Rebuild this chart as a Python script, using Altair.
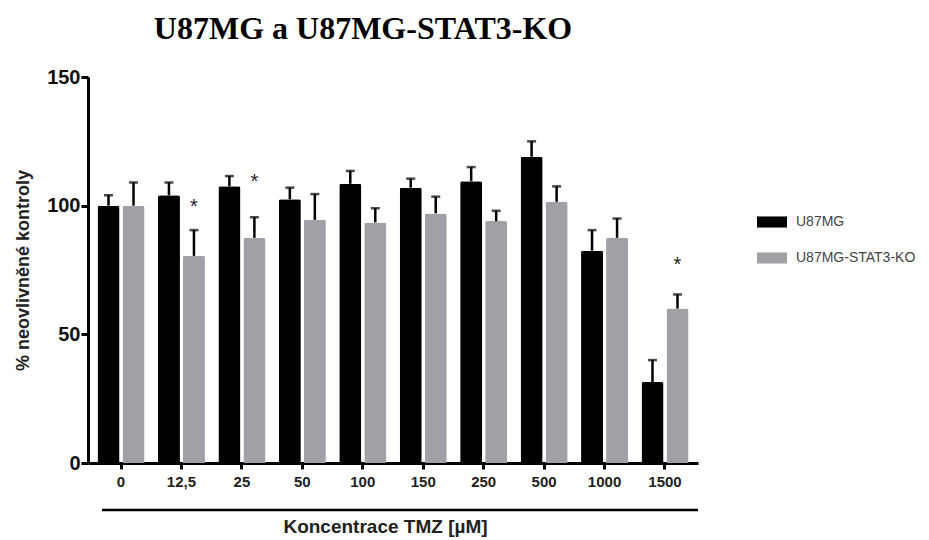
import altair as alt
import pandas as pd

conc = ["0", "12,5", "25", "50", "100", "150", "250", "500", "1000", "1500"]
series = ["U87MG", "U87MG-STAT3-KO"]
u87 = [100, 104, 107.5, 102.5, 108.5, 107, 109.5, 119, 82.5, 31.5]
u87_err = [4, 5, 4, 4.5, 5, 3.5, 5.5, 6, 8, 8.5]
ko = [100, 80.5, 87.5, 94.5, 93.5, 97, 94, 101.5, 87.5, 60]
ko_err = [9, 10, 8, 10, 5.5, 6.5, 4, 6, 7.5, 5.5]
star_conc = ["12,5", "25", "1500"]
star_y = [100, 109.5, 77.5]

rows = []
for i, c in enumerate(conc):
    rows.append({"conc": c, "series": series[0], "value": u87[i], "upper": u87[i] + u87_err[i]})
    rows.append({"conc": c, "series": series[1], "value": ko[i], "upper": ko[i] + ko_err[i]})
df = pd.DataFrame(rows)
stars = pd.DataFrame({"conc": star_conc, "series": [series[1]] * len(star_conc), "y": star_y})

W, H = 610, 386

x_enc = alt.X("conc:N", sort=conc, scale=alt.Scale(paddingInner=0.222, paddingOuter=0.157),
              axis=alt.Axis(title="Koncentrace TMZ [µM]", labelAngle=0, labelFont="Arial",
                            labelFontWeight="bold", labelFontSize=15, labelColor="#222",
                            tickSize=6, tickWidth=3, tickColor="black", labelPadding=5,
                            domainWidth=3, domainColor="black",
                            titleFont="Arial", titleFontWeight="bold", titleFontSize=19,
                            titleColor="#222", titlePadding=28, titleX=W / 2 - 8))
xo_enc = alt.XOffset("series:N", sort=series, scale=alt.Scale(paddingInner=0.12, paddingOuter=0))
y_scale = alt.Scale(domain=[0, 150], nice=False)

base = alt.Chart(df).encode(x=x_enc, xOffset=xo_enc)

bars = base.mark_bar(cornerRadiusTopLeft=2, cornerRadiusTopRight=2).encode(
    y=alt.Y("value:Q", scale=y_scale,
            axis=alt.Axis(title="% neovlivněné kontroly", values=[0, 50, 100, 150],
                          labelFont="Arial", labelFontWeight="bold", labelFontSize=20,
                          labelColor="#111", tickSize=7, tickWidth=3, tickColor="black",
                          domainWidth=3, domainColor="black", grid=False, labelPadding=1,
                          titleFont="Arial", titleFontSize=18, titleFontWeight="bold",
                          titleColor="#222", titlePadding=14)),
    color=alt.Color("series:N", sort=series,
                    scale=alt.Scale(domain=series, range=["#000000", "#a0a0a6"]),
                    legend=alt.Legend(title=None, orient="none", legendX=669, legendY=130,
                                      symbolType="M-1,-0.37H1V0.37H-1Z", symbolSize=900,
                                      symbolStrokeWidth=0, labelFont="Arial", labelFontSize=14,
                                      labelColor="#444", labelOffset=9, rowPadding=14)),
)

err = base.mark_rule(strokeWidth=2.5, color="black").encode(
    y=alt.Y("value:Q", scale=y_scale), y2="upper:Q")
cap = base.mark_tick(orient="horizontal", size=9, thickness=2.5, color="black").encode(
    y=alt.Y("upper:Q", scale=y_scale))

star_marks = alt.Chart(stars).mark_text(text="*", fontSize=20, font="Arial", color="#222",
                                        baseline="middle", dy=1).encode(
    x=alt.X("conc:N", sort=conc), xOffset=alt.XOffset("series:N", sort=series),
    y=alt.Y("y:Q", scale=y_scale))

line = alt.Chart(pd.DataFrame({"a": [0]})).mark_rule(strokeWidth=2.5, color="black").encode(
    x=alt.value(14), x2=alt.value(W), y=alt.value(H + 47))

chart = alt.layer(bars, err, cap, star_marks, line).properties(
    width=W, height=H,
    title=alt.TitleParams("U87MG a U87MG-STAT3-KO", font="Liberation Serif", fontSize=32,
                          fontWeight="bold", color="black", anchor="middle", dx=-30, offset=21),
    autosize=alt.AutoSizeParams(type="none"),
    padding={"left": 80, "top": 69, "right": 913 - 80 - W, "bottom": 90},
).configure_view(stroke=None)

chart.save("out.html", embed_options={"renderer": "svg", "actions": False})
